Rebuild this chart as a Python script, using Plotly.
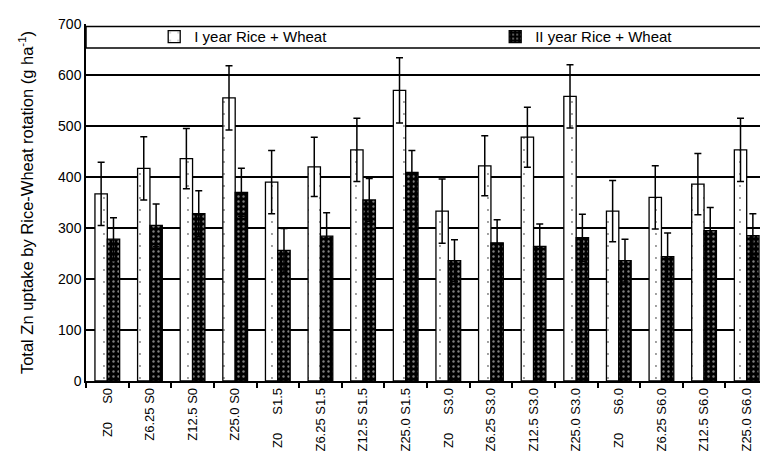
import plotly.graph_objects as go

NB = "\u00a0"
categories = ["Z0" + NB * 5 + "S0", "Z6.25" + NB + "S0", "Z12.5" + NB + "S0", "Z25.0" + NB + "S0",
              "Z0" + NB * 5 + "S1.5", "Z6.25" + NB + "S1.5", "Z12.5" + NB + "S1.5", "Z25.0" + NB + "S1.5",
              "Z0" + NB * 5 + "S3.0", "Z6.25" + NB + "S3.0", "Z12.5" + NB + "S3.0", "Z25.0" + NB + "S3.0",
              "Z0" + NB * 5 + "S6.0", "Z6.25" + NB + "S6.0", "Z12.5" + NB + "S6.0", "Z25.0" + NB + "S6.0"]
year1 = [367, 417, 436, 555, 390, 420, 453, 570, 333, 422, 478, 558, 333, 360, 386, 453]
year1_err = [62, 62, 59, 63, 62, 58, 62, 64, 63, 59, 59, 62, 60, 62, 60, 62]
year2 = [278, 305, 328, 370, 256, 284, 355, 409, 236, 271, 264, 281, 236, 244, 295, 285]
year2_err = [42, 42, 45, 47, 43, 46, 42, 43, 41, 45, 44, 46, 42, 46, 45, 43]
series_names = ["I year Rice + Wheat", "II year Rice + Wheat"]
y_ticks = [0, 100, 200, 300, 400, 500, 600, 700]

fig = go.Figure()
fig.add_trace(go.Bar(
    x=categories, y=year1, name=series_names[0], legend="legend",
    marker=dict(color="white", line=dict(color="black", width=1.3),
                pattern=dict(shape=".", fgcolor="black", bgcolor="white",
                             size=12, solidity=0.02)),
    error_y=dict(type="data", array=year1_err, color="black", thickness=1.5, width=3.5),
))
fig.add_trace(go.Bar(
    x=categories, y=year2, name=series_names[1], legend="legend2",
    marker=dict(color="black", line=dict(color="black", width=1.3),
                pattern=dict(shape=".", fgcolor="white", bgcolor="black",
                             size=5, solidity=0.18)),
    error_y=dict(type="data", array=year2_err, color="black", thickness=1.5, width=3.5),
))

# legend band at top of plot area
fig.add_shape(type="rect", xref="paper", yref="y", x0=0, x1=1, y0=653, y1=695,
              line=dict(color="black", width=1.5), fillcolor="white", layer="below")

legend_common = dict(orientation="h", xanchor="left", yanchor="middle", yref="paper",
                     bgcolor="rgba(0,0,0,0)", borderwidth=0,
                     font=dict(size=15, color="black"), itemclick=False)

fig.update_layout(
    width=760, height=457,
    margin=dict(l=78, r=0, t=16, b=84),
    paper_bgcolor="white", plot_bgcolor="white",
    barmode="group", bargap=0.42, bargroupgap=0,
    font=dict(family="Liberation Sans, Arial, sans-serif", color="black"),
    showlegend=True,
    legend=dict(x=0.1, y=0.964, **legend_common),
    legend2=dict(x=0.6, y=0.964, **legend_common),
    xaxis=dict(type="category", tickangle=-90, tickfont=dict(size=13),
               ticks="outside", tickson="boundaries", ticklen=5, tickwidth=1.5,
               tickcolor="black", showline=True, linecolor="black", linewidth=1.5,
               showgrid=False),
    yaxis=dict(range=[0, 700], tickvals=y_ticks, tickfont=dict(size=14),
               showgrid=True, gridcolor="black", gridwidth=1.5,
               showline=True, linecolor="black", linewidth=1.5,
               zeroline=False, ticks="", ticklen=0,
               title=dict(text="Total Zn uptake by Rice-Wheat rotation (g ha<sup>-1</sup>)",
                          font=dict(size=16.5), standoff=20)),
)

fig.write_html("out.html")
